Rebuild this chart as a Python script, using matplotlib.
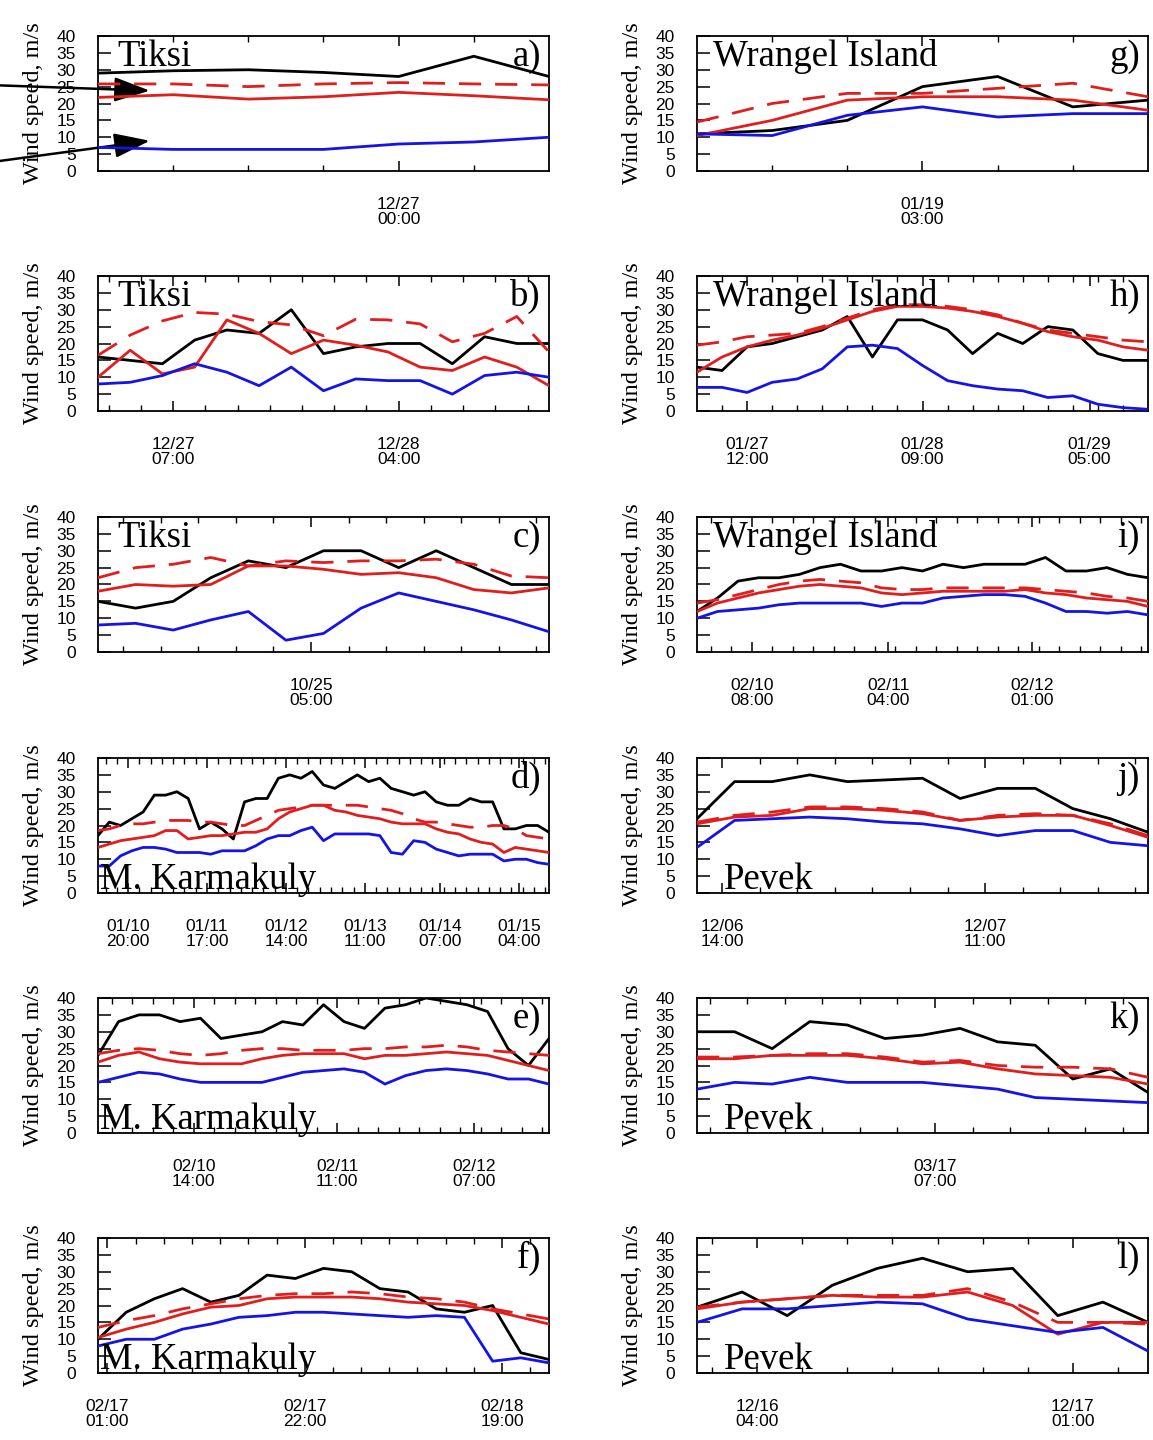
import matplotlib
matplotlib.use("Agg")
import matplotlib.pyplot as plt
import matplotlib.dates as mdates
import pandas as pd

# ---------------- data (wind speed, m/s; 3-hourly) ----------------
# black = observed, red solid = model 1, red dashed = model 2, blue = model 3
a_start = "2000-12-26 12:00"
a_labels = ["2000-12-27 00:00"]
a_obs = [29, 29.7, 30, 29.2, 28, 34, 28]
a_red = [21.8, 22.6, 21.3, 22, 23.3, 22.3, 21.1]
a_dash = [25.8, 25.8, 25, 25.8, 26.2, 25.8, 25.5]
a_blue = [7, 6.4, 6.4, 6.4, 8, 8.6, 10]

b_start = "2000-12-27 00:00"
b_labels = ["2000-12-27 07:00", "2000-12-28 04:00"]
b_obs = [16, 15, 14, 21, 24, 23, 30, 17, 19, 20, 20, 14, 22, 20, 20]
b_red = [10, 18, 11, 13, 27, 23, 17, 21, 19.5, 17.5, 13, 12, 16, 13, 7.5]
b_dash = [16.5, 22.5, 26.7, 29.2, 28.7, 26.5, 25.5, 22.3, 27.2, 27, 25.8, 20.5, 23, 28, 17.5]
b_blue = [8, 8.5, 10.5, 14, 11.5, 7.5, 13, 6, 9.5, 9, 9, 5, 10.5, 11.5, 10]

c_start = "2000-10-24 12:00"
c_labels = ["2000-10-25 05:00"]
c_obs = [15, 13, 15, 22, 27, 25, 30, 30, 25, 30, 25, 20, 20]
c_red = [18, 20, 19.5, 20, 25.5, 25.5, 24.5, 23, 23.5, 22, 18.5, 17.5, 19]
c_dash = [22, 25, 26, 28, 25.5, 27, 26.5, 27, 27, 27.5, 26, 22.5, 22]
c_blue = [8, 8.5, 6.5, 9.5, 12, 3.5, 5.5, 13, 17.5, 15, 12.5, 9.5, 6]

d_start = "2000-01-10 12:00"
d_labels = ["2000-01-10 20:00", "2000-01-11 17:00", "2000-01-12 14:00",
            "2000-01-13 11:00", "2000-01-14 07:00", "2000-01-15 04:00"]
d_obs = [17, 21, 20, 22, 24, 29, 29, 30, 28, 19, 21, 19, 16, 27, 28, 28, 34, 35, 34, 36,
         32, 31, 33, 35, 33, 34, 31, 30, 29, 30, 27, 26, 26, 28, 27, 27, 19, 19, 20, 20, 18]
d_red = [13.5, 14.5, 15.5, 16, 16.5, 17, 18.5, 18.5, 16, 16.5, 17, 17, 17.5, 18, 18, 19, 22,
         24, 25, 26, 26, 24.5, 24, 23, 22.5, 22, 21, 20.5, 20.5, 20.5, 19, 18, 17.5, 16, 15,
         14.5, 12, 13.5, 13, 12.5, 12]
d_dash = [18.5, 19, 20, 20.5, 20.5, 21, 21.5, 21.5, 21.5, 21, 21, 20.5, 20, 20, 21.5, 23,
          24.5, 25, 25.5, 26, 26, 26, 26, 26, 25.5, 25, 24.5, 23.5, 22, 21, 21, 20.5, 20,
          19.5, 19.5, 20, 20, 19, 17, 16.5, 16]
d_blue = [8, 8, 11, 12.5, 13.5, 13.5, 13, 12, 12, 12, 11.5, 12.5, 12.5, 12.5, 14, 16, 17, 17,
          18.5, 19.5, 15.5, 17.5, 17.5, 17.5, 17.5, 17, 12, 11.5, 15.5, 15, 13, 12, 11, 11.5,
          11.5, 11.5, 9.5, 10, 10, 9, 8.5]

e_start = "2000-02-10 00:00"
e_labels = ["2000-02-10 14:00", "2000-02-11 11:00", "2000-02-12 07:00"]
e_obs = [23, 33, 35, 35, 33, 34, 28, 29, 30, 33, 32, 38, 33, 31, 37, 38, 40, 39, 38, 36, 25, 20, 28]
e_red = [21, 23, 24, 22, 21, 20.5, 20.5, 20.5, 22, 23, 23.5, 23.5, 23.5, 22, 23, 23, 23.5, 24,
         23.5, 23, 21.5, 20, 18.5]
e_dash = [23.5, 24.5, 25, 24.5, 23.5, 23, 23.5, 24.5, 25, 25, 24.5, 24.5, 24.5, 25, 25, 25.5,
          25.5, 26, 25.5, 24.5, 24, 23.5, 23]
e_blue = [15, 16.5, 18, 17.5, 16, 15, 15, 15, 15, 16.5, 18, 18.5, 19, 18, 14.5, 17, 18.5, 19,
          18.5, 17.5, 16, 16, 14.5]

f_start = "2000-02-17 00:00"
f_labels = ["2000-02-17 01:00", "2000-02-17 22:00", "2000-02-18 19:00"]
f_obs = [10, 18, 22, 25, 21, 23, 29, 28, 31, 30, 25, 24, 19, 18, 20, 6, 4]
f_red = [10.5, 13, 15, 17.5, 19.5, 20, 22, 22.5, 22.5, 22.5, 22, 21, 20.5, 20, 18.5, 16.5, 14.5]
f_dash = [13.5, 15.5, 17, 19, 20.5, 22, 23, 23.5, 23.5, 24, 23.5, 22.5, 22, 21, 19, 17.5, 16]
f_blue = [8, 10, 10, 13, 14.5, 16.5, 17, 18, 18, 17.5, 17, 16.5, 17, 16.5, 3.5, 4.5, 3]

g_start = "2000-01-18 18:00"
g_labels = ["2000-01-19 03:00"]
g_obs = [11, 12, 15, 25, 28, 19, 21]
g_red = [10.5, 15, 21, 22, 22, 21, 18]
g_dash = [14.5, 20, 23, 23, 24.5, 26, 22]
g_blue = [11, 10.5, 16.5, 19, 16, 17, 17]

h_start = "2000-01-27 06:00"
h_labels = ["2000-01-27 12:00", "2000-01-28 09:00", "2000-01-29 05:00"]
h_obs = [13, 12, 19, 20, 22, 24, 28, 16, 27, 27, 24, 17, 23, 20, 25, 24, 17, 15, 15]
h_red = [11.5, 16, 19, 21, 22.5, 24.5, 27, 29.5, 31, 31, 30.5, 29.5, 28, 26, 23.5, 22, 21, 19, 18]
h_dash = [19.5, 20.5, 22, 22.5, 23, 25, 27.5, 30, 31.5, 31.5, 31, 30, 28.5, 26, 24, 23, 22, 21, 20.5]
h_blue = [7, 7, 5.5, 8.5, 9.5, 12.5, 19, 19.5, 18.5, 13.5, 9, 7.5, 6.5, 6, 4, 4.5, 2, 1, 0.5]

i_start = "2000-02-10 00:00"
i_labels = ["2000-02-10 08:00", "2000-02-11 04:00", "2000-02-12 01:00"]
i_obs = [12, 16, 21, 22, 22, 23, 25, 26, 24, 24, 25, 24, 26, 25, 26, 26, 26, 28, 24, 24, 25, 23, 22]
i_red = [12, 14.5, 16, 17.5, 18.5, 19.5, 20, 19.5, 19, 17.5, 17, 17.5, 18, 18, 18, 18, 18.5,
         17.5, 17, 16, 15.5, 15, 13.5]
i_dash = [14.5, 15.5, 17, 18.5, 20, 21, 21.5, 21, 20.5, 19, 18.5, 18.5, 19, 19, 19, 19, 19,
          18.5, 18, 17.5, 16.5, 16, 15]
i_blue = [10, 12, 12.5, 13, 14, 14.5, 14.5, 14.5, 14.5, 13.5, 14.5, 14.5, 16, 16.5, 17, 17,
          16.5, 14.5, 12, 12, 11.5, 12, 11]

j_start = "2000-12-06 12:00"
j_labels = ["2000-12-06 14:00", "2000-12-07 11:00"]
j_obs = [22, 33, 33, 35, 33, 33.5, 34, 28, 31, 31, 25, 22, 18]
j_red = [20.5, 22.5, 23, 25, 25, 24.5, 23.5, 21.5, 22.5, 23, 23, 20, 16.5]
j_dash = [21, 23, 24, 25.5, 25.5, 25, 24, 21.5, 23, 23.5, 23, 20.5, 17]
j_blue = [13.5, 21.5, 22, 22.5, 22, 21, 20.5, 19, 17, 18.5, 18.5, 15, 14]

k_start = "2000-03-16 12:00"
k_labels = ["2000-03-17 07:00"]
k_obs = [30, 30, 25, 33, 32, 28, 29, 31, 27, 26, 16, 19, 12]
k_red = [22, 22, 23, 23, 23, 22, 20.5, 21, 19, 17.5, 17, 16.5, 14.5]
k_dash = [22.5, 22.5, 23, 23.5, 23.5, 22.5, 21, 21.5, 20, 19.5, 19.5, 19, 16.5]
k_blue = [13, 15, 14.5, 16.5, 15, 15, 15, 14, 13, 10.5, 10, 9.5, 9]

l_start = "2000-12-16 00:00"
l_labels = ["2000-12-16 04:00", "2000-12-17 01:00"]
l_obs = [19.5, 24, 17, 26, 31, 34, 30, 31, 17, 21, 15]
l_red = [19, 21, 22, 23, 22.5, 22.5, 24, 20, 11.5, 15, 15]
l_dash = [19.5, 21, 22, 23, 23, 23, 25, 21, 15, 15, 14.5]
l_blue = [15, 19, 19, 20, 21, 20.5, 16, 14, 12, 13.5, 6.5]

station_a = "Tiksi"
station_g = "Wrangel Island"
station_d = "M. Karmakuly"
station_j = "Pevek"

# ---------------- layout ----------------
W, H = 1153, 1440
col_x = [98, 697]
row_top = [36, 276, 517, 758, 998, 1238]
AX_W, AX_H = 451, 135
RED = "#e01e1e"
BLUE = "#1414e6"
SERIF = "Liberation Serif"
SANS = "Liberation Sans"

panels = [
    dict(tag="a)", col=0, row=0, st=station_a, top=True, start=a_start, labels=a_labels,
         obs=a_obs, red=a_red, dash=a_dash, blue=a_blue),
    dict(tag="b)", col=0, row=1, st=station_a, top=True, start=b_start, labels=b_labels,
         obs=b_obs, red=b_red, dash=b_dash, blue=b_blue),
    dict(tag="c)", col=0, row=2, st=station_a, top=True, start=c_start, labels=c_labels,
         obs=c_obs, red=c_red, dash=c_dash, blue=c_blue),
    dict(tag="d)", col=0, row=3, st=station_d, top=False, start=d_start, labels=d_labels,
         obs=d_obs, red=d_red, dash=d_dash, blue=d_blue),
    dict(tag="e)", col=0, row=4, st=station_d, top=False, start=e_start, labels=e_labels,
         obs=e_obs, red=e_red, dash=e_dash, blue=e_blue),
    dict(tag="f)", col=0, row=5, st=station_d, top=False, start=f_start, labels=f_labels,
         obs=f_obs, red=f_red, dash=f_dash, blue=f_blue),
    dict(tag="g)", col=1, row=0, st=station_g, top=True, start=g_start, labels=g_labels,
         obs=g_obs, red=g_red, dash=g_dash, blue=g_blue),
    dict(tag="h)", col=1, row=1, st=station_g, top=True, start=h_start, labels=h_labels,
         obs=h_obs, red=h_red, dash=h_dash, blue=h_blue),
    dict(tag="i)", col=1, row=2, st=station_g, top=True, start=i_start, labels=i_labels,
         obs=i_obs, red=i_red, dash=i_dash, blue=i_blue),
    dict(tag="j)", col=1, row=3, st=station_j, top=False, start=j_start, labels=j_labels,
         obs=j_obs, red=j_red, dash=j_dash, blue=j_blue),
    dict(tag="k)", col=1, row=4, st=station_j, top=False, start=k_start, labels=k_labels,
         obs=k_obs, red=k_red, dash=k_dash, blue=k_blue),
    dict(tag="l)", col=1, row=5, st=station_j, top=False, start=l_start, labels=l_labels,
         obs=l_obs, red=l_red, dash=l_dash, blue=l_blue),
]

fig = plt.figure(figsize=(W / 100, H / 100), dpi=100)

axes = {}
for p in panels:
    left = col_x[p["col"]] / W
    bottom = 1 - (row_top[p["row"]] + AX_H) / H
    ax = fig.add_axes([left, bottom, AX_W / W, AX_H / H])
    axes[p["tag"]] = ax
    t = pd.date_range(p["start"], periods=len(p["obs"]), freq="3h")
    ax.plot(t, p["obs"], color="black", lw=2.0, zorder=3)
    ax.plot(t, p["red"], color=RED, lw=2.0, zorder=4)
    ax.plot(t, p["dash"], color=RED, lw=2.0, ls=(0, (8, 5)), zorder=4)
    ax.plot(t, p["blue"], color=BLUE, lw=2.0, zorder=5)
    ax.set_xlim(t[0], t[-1])
    ax.set_ylim(0, 40)

    # x ticks
    lab = pd.to_datetime(p["labels"])
    ax.set_xticks(lab)
    ax.xaxis.set_major_formatter(mdates.DateFormatter("%m/%d\n%H:%M"))
    anchor = lab[0]
    minor = pd.date_range(anchor - pd.Timedelta(hours=300), anchor + pd.Timedelta(hours=300), freq="3h")
    minor = [m for m in minor if t[0] < m < t[-1] and m not in set(lab)]
    ax.set_xticks(minor, minor=True)
    ax.tick_params(axis="x", which="major", direction="in", length=7, width=1.1,
                   top=True, bottom=True, pad=19, labelsize=12.5)
    ax.tick_params(axis="x", which="minor", direction="in", length=4, width=1.0,
                   top=True, bottom=True)
    for lbl in ax.get_xticklabels():
        lbl.set_family(SANS)
        lbl.set_linespacing(1.0)

    # y ticks
    ax.set_yticks(range(0, 41, 5))
    ax.tick_params(axis="y", which="major", direction="in", length=9, width=1.1,
                   left=True, right=False, pad=16, labelsize=12.5)
    for lbl in ax.get_yticklabels():
        lbl.set_family(SANS)

    for s in ax.spines.values():
        s.set_linewidth(1.3)

    ax.text(-0.142, 0.5, "Wind speed, m/s", rotation=90, ha="center", va="center",
            transform=ax.transAxes, fontsize=17.5, family=SERIF)

    if p["top"]:
        xoff = 0.044 if p["st"] == station_a else 0.035
        ax.text(xoff, 0.775, p["st"], ha="left", va="baseline", transform=ax.transAxes,
                fontsize=26.5, family=SERIF, zorder=6)
    else:
        xoff = 0.005 if p["st"] == station_d else 0.06
        ax.text(xoff, 0.03, p["st"], ha="left", va="baseline", transform=ax.transAxes,
                fontsize=26.5, family=SERIF, zorder=6)
    ax.text(0.982, 0.775, p["tag"], ha="right", va="baseline", transform=ax.transAxes,
            fontsize=26.5, family=SERIF, zorder=6)

# arrows in panel a
ax_a = axes["a)"]
arrow_style = dict(arrowstyle="-|>,head_length=1.1,head_width=0.38", lw=1.8, color="black",
                   mutation_scale=20, shrinkA=0, shrinkB=0)
ax_a.annotate("", xy=(0.115, 0.595), xycoords="axes fraction",
              xytext=(-0.25, 0.638), textcoords="axes fraction",
              arrowprops=arrow_style, annotation_clip=False)
ax_a.annotate("", xy=(0.115, 0.224), xycoords="axes fraction",
              xytext=(-0.25, 0.06), textcoords="axes fraction",
              arrowprops=arrow_style, annotation_clip=False)

fig.savefig("out.png", dpi=100)
